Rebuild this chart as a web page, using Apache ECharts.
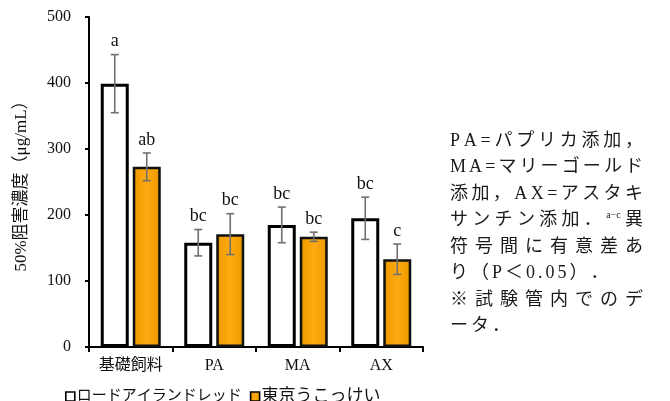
<!DOCTYPE html>
<html>
<head>
<meta charset="utf-8">
<script src="https://cdn.jsdelivr.net/npm/echarts@6/dist/echarts.min.js"></script>
<style>
  html, body { margin: 0; padding: 0; background: #fff; }
  #chart { width: 670px; height: 401px; }
</style>
</head>
<body>
<div id="chart"></div>
<script>
// Categories and the two breeds compared
const categories = ['基礎飼料', 'PA', 'MA', 'AX'];
const seriesNames = ['ロードアイランドレッド', '東京うこっけい'];

// 50% inhibitory concentration (µg/mL): mean and standard error per category
const rirMeans = [399, 158, 185, 195];
const rirErrors = [44, 20, 27, 32];
const rirLetters = ['a', 'bc', 'bc', 'bc'];

const tokyoMeans = [273, 171, 167, 133];
const tokyoErrors = [21, 31, 7, 23];
const tokyoLetters = ['ab', 'bc', 'bc', 'c'];

// Value axis ticks
const yTicks = [0, 100, 200, 300, 400, 500];
const yAxisTitle = '50%阻害濃度（μg/mL）';

// Side note, one entry per printed line; {sup: ...} is a superscript run
const noteLines = [
  ['PA=パプリカ添加，'],
  ['MA=マリーゴールド'],
  ['添加，AX=アスタキ'],
  ['サンチン添加．', { sup: 'a−c' }, '異'],
  ['符号間に有意差あ'],
  ['り（P＜0.05）．'],
  ['※試験管内でのデ'],
  ['ータ．']
];
// lines that close a paragraph are set ragged instead of justified
const noteRaggedLines = [5, 7];

// ---- styling ----
const SERIF = '"Liberation Serif", "DejaVu Serif", "Noto Sans CJK JP", serif';
const BAR_WIDTH = 28;
const BAR_GAP_PX = 4;
const BAR_OFFSET = (BAR_WIDTH + BAR_GAP_PX) / 2;

const orangeFill = new echarts.graphic.LinearGradient(0, 0, 1, 0, [
  { offset: 0, color: '#C27400' },
  { offset: 0.14, color: '#F29E00' },
  { offset: 0.5, color: '#FFAA12' },
  { offset: 0.86, color: '#F29E00' },
  { offset: 1, color: '#C27400' }
]);

function errorSeries(means, errors, letters, side) {
  return {
    type: 'custom',
    z: 5,
    silent: true,
    data: means.map((m, i) => [i, m - errors[i], m + errors[i]]),
    encode: { x: 0, y: [1, 2] },
    renderItem(params, api) {
      const idx = api.value(0);
      const lo = api.coord([idx, api.value(1)]);
      const hi = api.coord([idx, api.value(2)]);
      const x = lo[0] + side * BAR_OFFSET;
      const cap = 4;
      const stroke = { stroke: '#707070', lineWidth: 1.6 };
      return {
        type: 'group',
        children: [
          { type: 'line', shape: { x1: x, y1: hi[1], x2: x, y2: lo[1] }, style: stroke },
          { type: 'line', shape: { x1: x - cap, y1: hi[1], x2: x + cap, y2: hi[1] }, style: stroke },
          { type: 'line', shape: { x1: x - cap, y1: lo[1], x2: x + cap, y2: lo[1] }, style: stroke },
          {
            type: 'text',
            x: x,
            y: hi[1] - 13,
            style: {
              text: letters[params.dataIndex],
              fontFamily: SERIF,
              fontSize: 18,
              fill: '#111',
              align: 'center',
              verticalAlign: 'middle'
            }
          }
        ]
      };
    }
  };
}

// ---- side note layout (justified lines like the printed caption) ----
const NOTE_LEFT = 450;
const NOTE_RIGHT = 643;
const NOTE_TOP = 141;
const NOTE_STEP = 26.5;
const NOTE_SIZE = 18;
const SUP_SIZE = 10;
const RAGGED_GAP = 3;

const measureCtx = document.createElement('canvas').getContext('2d');
function textWidth(t, size) {
  measureCtx.font = 'normal normal ' + size + 'px ' + SERIF;
  return measureCtx.measureText(t).width;
}

function buildNote() {
  const els = [];
  noteLines.forEach((segments, li) => {
    const tokens = [];
    segments.forEach(seg => {
      if (typeof seg === 'string') {
        for (const ch of seg) {
          tokens.push({ text: ch, size: NOTE_SIZE, sup: false });
        }
      } else {
        tokens.push({ text: seg.sup, size: SUP_SIZE, sup: true });
      }
    });
    tokens.forEach(t => { t.w = textWidth(t.text, t.size); });
    const total = tokens.reduce((s, t) => s + t.w, 0);
    const ragged = noteRaggedLines.includes(li);
    const gap = ragged ? RAGGED_GAP : (NOTE_RIGHT - NOTE_LEFT - total) / (tokens.length - 1);
    let x = NOTE_LEFT;
    const y = NOTE_TOP + li * NOTE_STEP;
    tokens.forEach(t => {
      els.push({
        type: 'text',
        x: x,
        y: t.sup ? y - 5 : y,
        silent: true,
        style: {
          text: t.text,
          fontFamily: SERIF,
          fontSize: t.size,
          fill: '#1a1a1a',
          align: 'left',
          verticalAlign: 'middle'
        }
      });
      x += t.w + gap;
    });
  });
  return els;
}

const chart = echarts.init(document.getElementById('chart'), null, { renderer: 'canvas' });

chart.setOption({
  animation: false,
  backgroundColor: '#ffffff',
  grid: { left: 89, top: 17, width: 334, height: 330, containLabel: false },
  legend: {
    data: seriesNames,
    left: 60,
    top: 383,
    itemWidth: 9,
    itemHeight: 9,
    itemGap: 8,
    icon: 'rect',
    itemStyle: { borderColor: '#000', borderWidth: 1.6 },
    textStyle: {
      color: '#111',
      fontFamily: SERIF,
      padding: [0, 0, 0, -3],
      rich: {
        s: { fontSize: 15, fontFamily: SERIF, color: '#111' },
        l: { fontSize: 17, fontFamily: SERIF, color: '#111' }
      }
    },
    formatter: name => (name === seriesNames[0] ? '{s|' + name + '}' : '{l|' + name + '}')
  },
  xAxis: {
    type: 'category',
    data: categories,
    boundaryGap: true,
    axisLine: { lineStyle: { color: '#000', width: 2 } },
    axisTick: { show: true, length: 5, lineStyle: { color: '#000', width: 2 } },
    axisLabel: {
      margin: 11,
      color: '#111',
      fontSize: 16,
      fontFamily: SERIF
    },
    splitLine: { show: false }
  },
  yAxis: {
    type: 'value',
    min: yTicks[0],
    max: yTicks[yTicks.length - 1],
    interval: yTicks[1] - yTicks[0],
    name: yAxisTitle,
    nameLocation: 'middle',
    nameGap: 59,
    nameRotate: 90,
    nameTextStyle: { fontSize: 17, fontFamily: SERIF, color: '#111' },
    axisLine: { show: true, lineStyle: { color: '#000', width: 2 } },
    axisTick: { show: true, length: 4, lineStyle: { color: '#000', width: 2 } },
    axisLabel: { margin: 18, color: '#111', fontSize: 16, fontFamily: SERIF },
    splitLine: { show: false }
  },
  series: [
    {
      name: seriesNames[0],
      type: 'bar',
      data: rirMeans,
      barWidth: BAR_WIDTH,
      barGap: (BAR_GAP_PX / BAR_WIDTH * 100) + '%',
      itemStyle: { color: '#ffffff', borderColor: '#000', borderWidth: 3 }
    },
    {
      name: seriesNames[1],
      type: 'bar',
      data: tokyoMeans,
      barWidth: BAR_WIDTH,
      itemStyle: { color: orangeFill, borderColor: '#111', borderWidth: 2.5 }
    },
    errorSeries(rirMeans, rirErrors, rirLetters, -1),
    errorSeries(tokyoMeans, tokyoErrors, tokyoLetters, 1)
  ],
  graphic: buildNote()
});
</script>
</body>
</html>
